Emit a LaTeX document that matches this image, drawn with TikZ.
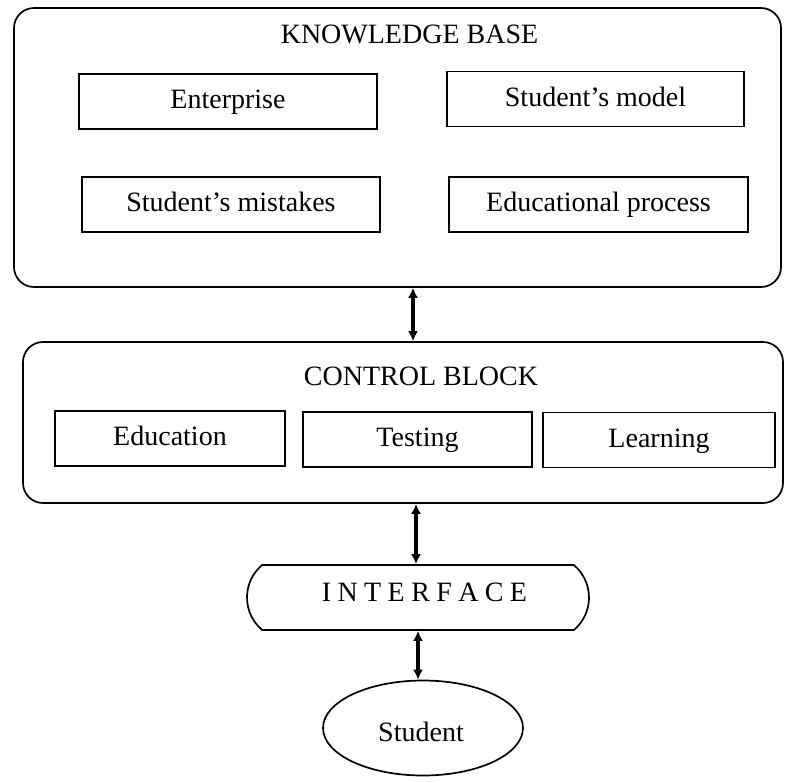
\documentclass[tikz,border=0pt]{standalone}
\usepackage{fontspec}
\setmainfont{Liberation Serif}
\usetikzlibrary{arrows.meta,shapes.geometric,shapes.misc}
\begin{document}
\begin{tikzpicture}[x=1pt,y=-1pt,
  every node/.style={font=\fontsize{28}{32}\selectfont},
  outer/.style={draw,line width=1.7pt,rounded corners=20pt,inner sep=0pt},
  inbox/.style={draw,line width=1.4pt,inner sep=0pt,minimum height=55pt,
                text height=20pt,text depth=6pt},
  link/.style={line width=3.2pt,{Latex[length=10pt,width=10pt]}-{Latex[length=10pt,width=10pt]}},
  lbl/.style={anchor=base,inner sep=0pt}]
\useasboundingbox (0,0) rectangle (786,782);
% knowledge base
\node[outer,minimum width=767pt,minimum height=279pt] (kb) at (397.5,147.5) {};
\node[lbl] (kbt) at (409.5,43) {KNOWLEDGE BASE};
\node[inbox,minimum width=298pt] (ent) at (228,101.5) {Enterprise};
\node[inbox,minimum width=297pt] (smod) at (595.5,99) {Student's model};
\node[inbox,minimum width=298pt] (smis) at (231,204.5) {Student's mistakes};
\node[inbox,minimum width=299pt] (edp) at (598.5,204.5) {Educational process};
% control block
\node[outer,minimum width=760pt,minimum height=161pt] (cb) at (403,422.5) {};
\node[lbl] (cbt) at (421,385) {CONTROL BLOCK};
\node[inbox,minimum width=230pt] (edu) at (170,438.5) {Education};
\node[inbox,minimum width=229pt] (tst) at (417.5,439.5) {Testing};
\node[inbox,minimum width=232pt] (lrn) at (659,440) {Learning};
% interface
\node[draw,line width=1.7pt,rounded rectangle,rounded rectangle arc length=100,
      minimum width=342pt,minimum height=65pt,inner sep=0pt] (if) at (418,597.5) {};
\node[lbl] (ift) at (424.5,601) {I\hspace{6.4pt}N\hspace{6.4pt}T\hspace{6.4pt}E\hspace{6.4pt}R\hspace{6.4pt}F\hspace{6.4pt}A\hspace{6.4pt}C\hspace{6.4pt}E};
% student
\node[draw,line width=1.7pt,ellipse,minimum width=200pt,minimum height=95pt,inner sep=0pt] (st) at (423,728) {};
\node[lbl] (stt) at (421,741) {Student};
% connectors
\coordinate (a1) at (413,0);
\coordinate (a2) at (416,0);
\coordinate (a3) at (418,0);
\draw[link] (a1 |- kb.south) -- (a1 |- cb.north);
\draw[link] (a2 |- cb.south) -- (a2 |- if.north);
\draw[link] (a3 |- if.south) -- (a3 |- st.north);
\end{tikzpicture}
\end{document}
